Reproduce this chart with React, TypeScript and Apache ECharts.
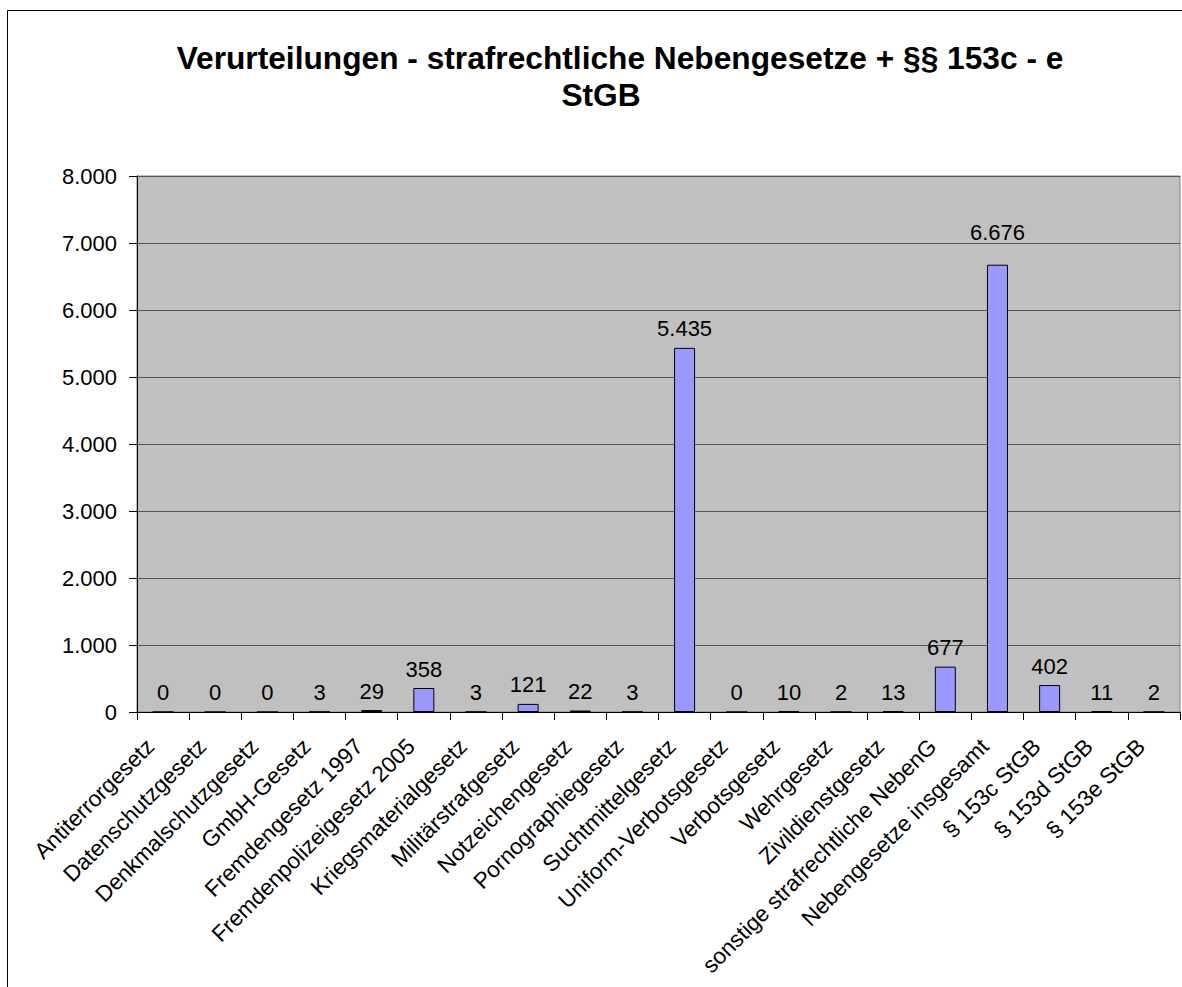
import React, { useEffect, useRef } from 'react';
import * as echarts from 'echarts';

const titleLine1 = 'Verurteilungen - strafrechtliche Nebengesetze + §§ 153c - e';
const titleLine2 = 'StGB';

const categories = [
  'Antiterrorgesetz',
  'Datenschutzgesetz',
  'Denkmalschutzgesetz',
  'GmbH-Gesetz',
  'Fremdengesetz 1997',
  'Fremdenpolizeigesetz 2005',
  'Kriegsmaterialgesetz',
  'Militärstrafgesetz',
  'Notzeichengesetz',
  'Pornographiegesetz',
  'Suchtmittelgesetz',
  'Uniform-Verbotsgesetz',
  'Verbotsgesetz',
  'Wehrgesetz',
  'Zivildienstgesetz',
  'sonstige strafrechtliche NebenG',
  'Nebengesetze insgesamt',
  '§ 153c StGB',
  '§ 153d StGB',
  '§ 153e StGB',
];

const values = [0, 0, 0, 3, 29, 358, 3, 121, 22, 3, 5435, 0, 10, 2, 13, 677, 6676, 402, 11, 2];

const yMin = 0;
const yMax = 8000;
const yInterval = 1000;

const FONT = '"Liberation Sans", Arial, Helvetica, sans-serif';

const fmt = (v: number) => String(Math.round(v)).replace(/\B(?=(\d{3})+(?!\d))/g, '.');

export default function App() {
  const ref = useRef<HTMLDivElement>(null);
  useEffect(() => {
    document.body.style.margin = '0';
    const chart = echarts.init(ref.current!, null, { renderer: 'svg' });
    const seriesData = values.map((v, i) =>
      i === 16 ? { value: v, label: { distance: 21 } } : v
    );
    chart.setOption({
      animation: false,
      backgroundColor: '#ffffff',
      textStyle: { fontFamily: FONT },
      graphic: [
        {
          type: 'rect',
          shape: { x: 7.5, y: 10.5, width: 1300, height: 1100 },
          style: { fill: 'none', stroke: '#000', lineWidth: 1 },
          silent: true,
        },
        {
          type: 'text',
          x: 620,
          y: 58,
          style: {
            text: titleLine1,
            fontFamily: FONT,
            fontSize: 31.7,
            fontWeight: 'bold',
            fill: '#000',
            align: 'center',
            verticalAlign: 'middle',
          },
        },
        {
          type: 'text',
          x: 601,
          y: 95,
          style: {
            text: titleLine2,
            fontFamily: FONT,
            fontSize: 31.7,
            fontWeight: 'bold',
            fill: '#000',
            align: 'center',
            verticalAlign: 'middle',
          },
        },
      ],
      grid: {
        left: 137,
        right: 2,
        top: 176,
        bottom: 275,
        show: true,
        backgroundColor: '#C0C0C0',
        borderColor: '#808080',
        borderWidth: 1,
        containLabel: false,
        outerBoundsMode: 'none',
      },
      xAxis: {
        type: 'category',
        data: categories,
        boundaryGap: true,
        axisLine: { show: true, lineStyle: { color: '#000', width: 1 } },
        axisTick: { show: true, inside: false, length: 8, alignWithLabel: false, lineStyle: { color: '#000' } },
        axisLabel: {
          interval: 0,
          rotate: 45,
          margin: 18,
          padding: [0, 18, 0, 0],
          fontSize: 22.5,
          color: '#000',
          fontFamily: FONT,
          hideOverlap: false,
        },
        splitLine: { show: false },
      },
      yAxis: {
        type: 'value',
        min: yMin,
        max: yMax,
        interval: yInterval,
        axisLine: { show: true, lineStyle: { color: '#000', width: 1 } },
        axisTick: { show: true, inside: false, length: 8, lineStyle: { color: '#000' } },
        axisLabel: {
          margin: 20,
          fontSize: 22,
          color: '#000',
          fontFamily: FONT,
          formatter: (v: number) => fmt(v),
        },
        splitLine: { show: true, lineStyle: { color: '#555555', width: 1 } },
      },
      series: [
        {
          type: 'bar',
          data: seriesData,
          barWidth: 21,
          itemStyle: { color: '#9999FF', borderColor: '#000', borderWidth: 1 },
          label: {
            show: true,
            position: 'top',
            distance: 8,
            fontSize: 22,
            color: '#000',
            fontFamily: FONT,
            formatter: (p: any) => fmt(p.value),
          },
        },
      ],
    });
    return () => chart.dispose();
  }, []);
  return <div ref={ref} style={{ width: 1182, height: 987 }} />;
}
